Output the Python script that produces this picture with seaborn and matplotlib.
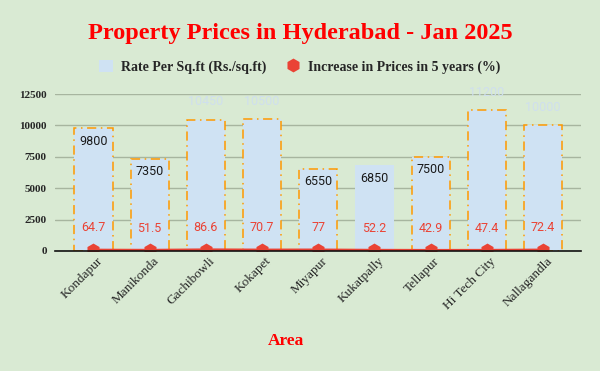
import matplotlib
matplotlib.use("Agg")
import matplotlib.pyplot as plt
import matplotlib.transforms as mtransforms
import seaborn as sns
import numpy as np
import pandas as pd
from matplotlib.lines import Line2D
from matplotlib.patches import Patch

areas = ["Kondapur", "Manikonda", "Gachibowli", "Kokapet", "Miyapur",
         "Kukatpally", "Tellapur", "Hi Tech City", "Nallagandla"]
rate = [9800, 7350, 10450, 10500, 6550, 6850, 7500, 11200, 10000]
increase = [64.7, 51.5, 86.6, 70.7, 77, 52.2, 42.9, 47.4, 72.4]
yticks = [0, 2500, 5000, 7500, 10000, 12500]

title = "Property Prices in Hyderabad - Jan 2025"
bar_name = "Rate Per Sq.ft (Rs./sq.ft)"
line_name = "Increase in Prices in 5 years (%)"

BG = "#d9ead3"
BAR = "#cfe2f3"
ORANGE = "#ff9900"
RED = "#ea4335"
GRID = "#a7b59f"

df = pd.DataFrame({"Area": areas, "Rate": rate, "Increase": increase})

sns.set_theme(style="white")
plt.rcParams["font.family"] = ["Liberation Serif", "DejaVu Serif"]

fig = plt.figure(figsize=(6, 3.71), dpi=100, facecolor=BG)
ax = fig.add_axes([55/600, 1-251/371, 526/600, 157/371])
ax.set_facecolor(BG)

sns.barplot(data=df, x="Area", y="Rate", color=BAR, width=0.68, ax=ax,
            saturation=1, zorder=2)
for i, p in enumerate(ax.patches):
    p.set_facecolor(BAR)
    if areas[i] == "Kukatpally":
        p.set_edgecolor("none")
    else:
        p.set_edgecolor(ORANGE)
        p.set_linestyle((0, (6, 3, 1, 3)))
        p.set_linewidth(1.1)

sns.lineplot(x=np.arange(len(areas)), y=increase, color=RED, marker="h",
             markersize=10, markeredgewidth=0, linewidth=2.2, ax=ax, zorder=4)
for ln in ax.lines:
    ln.set_clip_on(True)
    ln.set_clip_box(ax.bbox)

# value labels
for i, v in enumerate(rate):
    if v < 10000:
        ax.annotate(f"{v}", (i, v), xytext=(0, -9.5), textcoords="offset points",
                    ha="center", va="center", fontsize=9, family="Roboto",
                    color="#1a1a1a", zorder=5)
    else:
        ax.annotate(f"{v}", (i, v), xytext=(0, 13), textcoords="offset points",
                    ha="center", va="center", fontsize=9, family="Roboto",
                    color="#cfdfee", zorder=5, annotation_clip=False)
for i, v in enumerate(increase):
    ax.annotate(f"{v:g}", (i, v), xytext=(0, 16), textcoords="offset points",
                ha="center", va="center", fontsize=9, family="Roboto",
                color=RED, zorder=5)

ax.set_xlim(-0.685, 8.675)
ax.set_ylim(0, 12500)
ax.set_yticks(yticks)
ax.set_yticklabels([str(t) for t in yticks], fontsize=8, fontweight="bold")
ax.yaxis.grid(True, color=GRID, linewidth=1, zorder=0)
ax.set_axisbelow(True)
ax.tick_params(axis="y", length=0, pad=6)
ax.tick_params(axis="x", length=0, pad=3)
ax.set_xticks(range(len(areas)))
ax.set_xticklabels(areas, rotation=45, ha="right", rotation_mode="anchor",
                   fontsize=9.5)
for lab in ax.get_xticklabels():
    lab.set_transform(lab.get_transform() + mtransforms.ScaledTranslation(3/100, 0, fig.dpi_scale_trans))
for s in ["top", "right", "left"]:
    ax.spines[s].set_visible(False)
ax.spines["bottom"].set_color("#111111")
ax.spines["bottom"].set_linewidth(1.2)
ax.spines["bottom"].set_zorder(6)
ax.set_ylabel("")
ax.set_xlabel("Area", color="#ff0000", fontsize=12.5, fontweight="bold")
ax.xaxis.set_label_coords(0.44, -0.52)

fig.text(0.5, 1-33/371, title, ha="center", va="center", color="#ff0000",
         fontsize=17.5, fontweight="bold")

handles = [Patch(facecolor=BAR, edgecolor="none"),
           Line2D([], [], color=RED, marker="h", linestyle="none", markersize=10,
                  markeredgewidth=0)]
fig.legend(handles, [bar_name, line_name], loc="center",
           bbox_to_anchor=(0.5, 1-67/371), ncol=2, frameon=False,
           prop={"size": 10, "weight": "bold"}, handlelength=1.0,
           handleheight=1.0, columnspacing=1.4, handletextpad=0.6)

fig.savefig("out.png", dpi=100, facecolor=BG)
